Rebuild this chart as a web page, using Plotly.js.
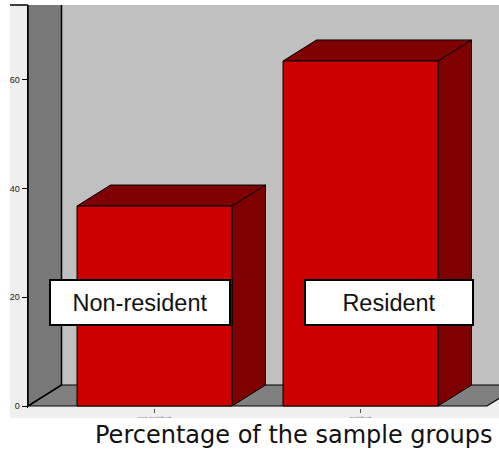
<!DOCTYPE html>
<html>
<head>
<meta charset="utf-8">
<script src="https://cdn.plot.ly/plotly-3.0.1.min.js"></script>
<style>html,body{margin:0;padding:0;background:#fff;}#chart{width:499px;height:450px;}</style>
</head>
<body>
<div id="chart"></div>
<script>
// ---- data ----
const categories = ['non-resident', 'resident'];      // axis tick labels
const boxLabels = ['Non-resident', 'Resident'];        // labels in boxes
const percentages = [36.8, 63.5];                      // % of sample
const yTicks = [0, 20, 40, 60];
const captionText = 'Percentage of the sample groups';

// ---- 3D geometry (style) ----
const barWidth = 0.7524;
const depthX = 0.1626;   // horizontal depth offset (x units)
const depthY = 3.865;    // vertical depth offset (y units)
const xRange = [-0.6141, 1.6723];
const yRange = [-0.368, 73.80];
const floorL = -0.6141, floorR = 1.6141;
const topY = 80;

function poly(xs, ys, fill, lw) {
  return {
    type: 'scatter', mode: 'lines',
    x: xs.concat([xs[0]]), y: ys.concat([ys[0]]),
    fill: 'toself', fillcolor: fill,
    line: {color: '#000', width: lw},
    hoverinfo: 'skip', showlegend: false
  };
}

const traces = [];
// back wall
traces.push(poly([floorL + depthX, 3, 3, floorL + depthX], [depthY, depthY, topY, topY], '#c0c0c0', 0));
// floor
traces.push(poly([floorL, floorR, floorR + depthX, floorL + depthX], [0, 0, depthY, depthY], '#808080', 1.2));
// left wall
traces.push(poly([floorL, floorL + depthX, floorL + depthX, floorL], [0, depthY, topY, topY], '#787878', 1.5));

// bars
categories.forEach(function (c, i) {
  const v = percentages[i];
  const x0 = i - barWidth / 2, x1 = i + barWidth / 2;
  traces.push(poly([x1, x1 + depthX, x1 + depthX, x1], [0, depthY, v + depthY, v], '#7f0000', 1));
  traces.push(poly([x0, x1, x1 + depthX, x0 + depthX], [v, v, v + depthY, v + depthY], '#7f0000', 1));
  traces.push(poly([x0, x1, x1, x0], [0, 0, v, v], '#cc0000', 1));
});

const boxX = [-0.0704, 1.1383];
const boxW = [178, 166];
const boxY = 19.05;
const annotations = boxLabels.map(function (t, i) {
  return {
    text: t, x: boxX[i], y: boxY, xref: 'x', yref: 'y',
    xanchor: 'center', yanchor: 'middle', showarrow: false,
    bgcolor: '#ffffff', bordercolor: '#000', borderwidth: 2, borderpad: 0,
    width: boxW[i], height: 43,
    font: {family: 'Liberation Sans, Arial, sans-serif', size: 23.5, color: '#111'}
  };
});
annotations.push({
  text: captionText, xref: 'paper', yref: 'paper', x: 0.5637, y: -0.0680,
  xanchor: 'center', yanchor: 'middle', showarrow: false,
  font: {family: 'DejaVu Sans, sans-serif', size: 24, color: '#111'}
});

const layout = {
  width: 499, height: 450,
  margin: {l: 28, r: 0, t: 5, b: 42, pad: 0},
  paper_bgcolor: '#ffffff', plot_bgcolor: '#efefef',
  showlegend: false,
  xaxis: {
    range: xRange, tickvals: [0, 1], ticktext: categories,
    ticks: 'outside', ticklen: 4, tickcolor: '#555', tickwidth: 1,
    tickfont: {family: 'Liberation Sans, Arial, sans-serif', size: 6, color: '#666'},
    showgrid: false, zeroline: false, showline: false, fixedrange: true
  },
  yaxis: {
    range: yRange, tickvals: yTicks,
    ticks: 'outside', ticklen: 5, tickcolor: '#000', tickwidth: 1,
    tickfont: {family: 'Liberation Sans, Arial, sans-serif', size: 9, color: '#222'},
    showgrid: false, zeroline: false, showline: true, linecolor: '#000', linewidth: 1.5,
    fixedrange: true
  },
  shapes: [
    {type: 'rect', xref: 'paper', yref: 'paper', x0: -0.0382, x1: 1.01, y0: -0.0248, y1: 1,
     fillcolor: '#efefef', line: {width: 0}, layer: 'below'},
    {type: 'line', xref: 'paper', yref: 'paper', x0: -0.0382, x1: 0, y0: 1, y1: 1,
     line: {color: '#000', width: 1.5}},
    {type: 'rect', xref: 'paper', yref: 'paper', x0: -0.07, x1: 1.02, y0: -0.12, y1: -0.0248,
     fillcolor: '#ffffff', line: {width: 0}, layer: 'above'}
  ],
  annotations: annotations
};

Plotly.newPlot('chart', traces, layout, {displayModeBar: false, staticPlot: true});
</script>
</body>
</html>
